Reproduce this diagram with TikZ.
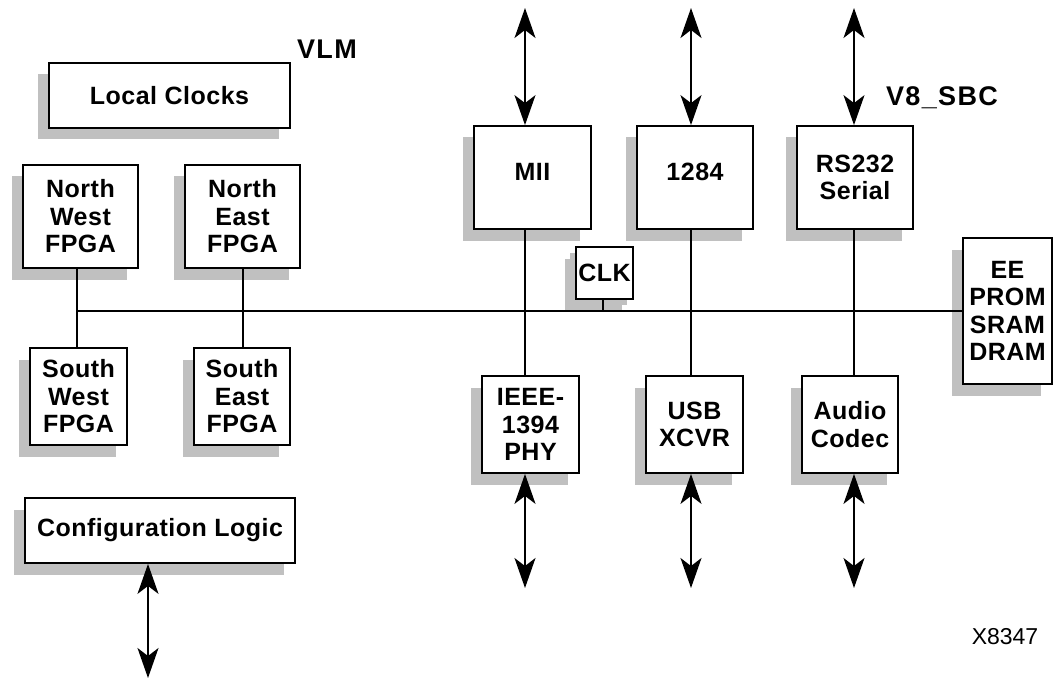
\documentclass[tikz,border=0pt]{standalone}
\usepackage{fontspec}
\newfontfamily\lbl{Liberation Sans}[LetterSpace=2]
\newfontfamily\ttlf{Liberation Sans}[LetterSpace=5]
\newfontfamily\plain{Liberation Sans}
\usetikzlibrary{shadows,arrows.meta}
\definecolor{shgray}{RGB}{192,192,192}
\tikzset{
  blk/.style={draw=black, fill=white, line width=1.8pt, inner sep=0pt, align=center,
    font=\lbl\bfseries\fontsize{25}{27.5}\selectfont,
    general shadow={fill=shgray, shadow xshift=-11.5pt, shadow yshift=-11.5pt}},
  wire/.style={line width=1.5pt},
  dbl/.style={line width=1.5pt, {Stealth[length=30pt,width=21pt,inset=8pt]}-{Stealth[length=30pt,width=21pt,inset=8pt]}},
  ttl/.style={font=\ttlf\bfseries\fontsize{27}{30}\selectfont, inner sep=0pt}
}
\begin{document}
\begin{tikzpicture}[x=1pt,y=-1pt]
\useasboundingbox (0,0) rectangle (1054,679);
% title labels
\node[ttl] (vlm) at (327,49) {VLM};
\node[ttl] (sbc) at (942,98) {V8\_SBC};
\node[font=\plain\fontsize{23}{27}\selectfont, inner sep=0pt] (xid) at (1005,637) {X8347};
% VLM blocks
\node[blk, minimum width=241pt, minimum height=65pt] (lc) at (169.5,95.5) {Local Clocks};
\node[blk, minimum width=115pt, minimum height=103pt] (nw) at (80.5,216.5) {North\\West\\FPGA};
\node[blk, minimum width=115pt, minimum height=103pt] (ne) at (242.5,216.5) {North\\East\\FPGA};
\node[blk, minimum width=97pt, minimum height=97pt] (sw) at (78.5,396.5) {South\\West\\FPGA};
\node[blk, minimum width=96pt, minimum height=97pt] (se) at (242,396.5) {South\\East\\FPGA};
\node[blk, minimum width=270pt, minimum height=65pt] (cfg) at (160,530.5) {Configuration Logic};
% SBC blocks
\node[blk, minimum width=117pt, minimum height=103pt, text depth=11pt] (mii) at (532.5,177.5) {MII};
\node[blk, minimum width=116pt, minimum height=103pt, text depth=11pt] (par) at (695,177.5) {1284};
\node[blk, minimum width=116pt, minimum height=103pt] (rs) at (855,177.5) {RS232\\Serial};
\node[blk, minimum width=57pt, minimum height=52pt, general shadow={fill=shgray, shadow xshift=-6pt, shadow yshift=-5.5pt}] (clk) at (604.5,273) {CLK};
\node[blk, minimum width=89pt, minimum height=146pt] (ee) at (1007.5,311) {EE\\PROM\\SRAM\\DRAM};
\node[blk, minimum width=97pt, minimum height=97pt] (ieee) at (530.5,424.5) {IEEE-\\1394\\PHY};
\node[blk, minimum width=97pt, minimum height=97pt] (usb) at (694.5,424.5) {USB\\XCVR};
\node[blk, minimum width=96pt, minimum height=97pt] (aud) at (850,424.5) {Audio\\Codec};
% bus
\coordinate (nwx) at (77,311);
\coordinate (nex) at (243,311);
\draw[wire] (nwx) -- (ee.west |- nwx);
\draw[wire] (nwx |- nw.south) -- (nwx |- sw.north);
\draw[wire] (nex |- ne.south) -- (nex |- se.north);
\coordinate (ck) at (603,311);
\draw[wire] (ck |- clk.south) -- (ck);
% columns
\coordinate (mT) at (525,8);   \coordinate (mB) at (525,588);
\coordinate (pT) at (691,8);   \coordinate (pB) at (691,588);
\coordinate (rT) at (854,8);   \coordinate (rB) at (854,588);
\draw[dbl] (mT) -- (mT |- mii.north);
\draw[dbl] (pT) -- (pT |- par.north);
\draw[dbl] (rT) -- (rT |- rs.north);
\draw[wire] (mT |- mii.south) -- (mT |- ieee.north);
\draw[wire] (pT |- par.south) -- (pT |- usb.north);
\draw[wire] (rT |- rs.south) -- (rT |- aud.north);
\draw[dbl] (mB |- ieee.south) -- (mB);
\draw[dbl] (pB |- usb.south) -- (pB);
\draw[dbl] (rB |- aud.south) -- (rB);
% configuration arrow
\coordinate (cB) at (148,678);
\draw[dbl] (cB |- cfg.south) -- (cB);
\end{tikzpicture}
\end{document}
